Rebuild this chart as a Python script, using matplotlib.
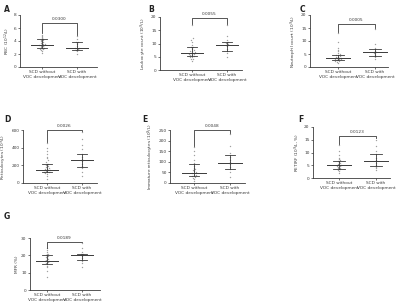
import numpy as np
import matplotlib
matplotlib.use('Agg')
import matplotlib.pyplot as plt

W, H = 400, 303

groups = ['SCD without\nVOC development', 'SCD with\nVOC development']

# panel letters, y labels, ticks, p values
letters = ['A', 'B', 'C', 'D', 'E', 'F', 'G']
ylabels = ['RBC (10$^{12}$/L)', 'Leukocyte count (10$^9$/L)', 'Neutrophil count (10$^9$/L)',
           'Reticulocytes (10$^9$/L)', 'Immature reticulocytes (10$^9$/L)',
           'RETIRF (10$^9$/L, %)', 'MFR (%)']
yticks = [[0, 2, 4, 6, 8], [0, 5, 10, 15, 20], [0, 5, 10, 15, 20], [0, 200, 400, 600],
          [0, 50, 100, 150, 200, 250], [0, 5, 10, 15, 20], [0, 10, 20, 30]]
pvals = ['0.0300', '0.0055', '0.0005', '0.0026', '0.0048', '0.0123', '0.0189']

# raw points, group without VOC / with VOC
g1 = [
    [2.2, 2.4, 2.6, 2.7, 2.8, 2.9, 2.9, 3.0, 3.1, 3.2, 3.3, 3.3, 3.4, 3.4, 3.5, 3.5, 3.6,
     3.7, 3.8, 3.9, 4.0, 4.1, 4.2, 4.3, 4.4, 4.6, 4.8, 5.0],
    [3.5, 4.0, 4.3, 4.8, 5.0, 5.2, 5.5, 5.8, 6.0, 6.2, 6.5, 6.5, 6.8, 7.0, 7.3, 7.6, 8.0,
     8.5, 8.8, 9.5, 10.5, 11.5, 12.0, 17.0],
    [1.5, 2.0, 2.3, 2.5, 2.7, 2.9, 3.0, 3.2, 3.4, 3.5, 3.6, 3.8, 4.0, 4.2, 4.5, 4.8, 5.0,
     5.5, 6.0, 6.5, 7.5, 9.5, 13.0],
    [50, 80, 100, 110, 120, 125, 130, 140, 145, 150, 155, 160, 170, 180, 190, 200, 210,
     220, 240, 260, 280, 300, 330, 360, 400, 450],
    [10, 20, 25, 30, 35, 38, 40, 45, 48, 50, 55, 60, 65, 70, 80, 88, 95, 110, 130, 150, 170],
    [2.0, 2.8, 3.2, 3.5, 3.8, 4.0, 4.3, 4.6, 4.8, 5.0, 5.2, 5.5, 5.8, 6.2, 6.6, 7.0, 7.5,
     8.0, 9.0, 10.5, 13.0],
    [7.5, 11.0, 13.0, 14.0, 15.0, 15.5, 16.0, 16.5, 17.0, 17.0, 17.5, 18.0, 18.5, 19.0,
     19.5, 20.0, 20.5, 21.0, 22.0, 23.0, 24.0],
]
g2 = [
    [2.0, 2.4, 2.6, 2.7, 2.9, 3.0, 3.0, 3.2, 3.5, 3.8, 3.9, 4.3, 4.8],
    [5.0, 6.5, 7.2, 8.0, 9.0, 9.5, 9.8, 10.2, 10.5, 11.5, 13.0, 17.0],
    [3.0, 3.8, 4.2, 4.8, 5.5, 5.8, 6.2, 6.8, 7.5, 9.0, 14.5],
    [80, 130, 170, 190, 220, 250, 270, 300, 330, 380, 430, 500, 580],
    [30, 50, 65, 75, 90, 100, 110, 125, 140, 175, 230],
    [3.0, 4.0, 4.5, 5.0, 5.8, 6.5, 7.0, 8.0, 9.3, 10.5, 12.5, 15.0],
    [13.0, 15.5, 17.0, 17.5, 18.5, 19.5, 20.0, 20.5, 21.0, 22.0, 24.0, 27.0],
]
# median, q1, q3
stats1 = [(3.4, 2.9, 4.3), (6.5, 5.2, 8.7), (3.5, 2.6, 4.7), (150, 120, 210),
          (48, 35, 88), (5.0, 3.7, 6.5), (17.0, 15.0, 20.0)]
stats2 = [(3.0, 2.6, 3.8), (9.5, 7.2, 10.5), (5.7, 4.2, 6.8), (260, 180, 330),
          (95, 68, 130), (6.7, 4.6, 9.3), (20.0, 17.5, 21.0)]
# bracket level and leg ends (data units)
brackets = [(6.8, 5.3, 5.0), (19.5, 17.5, 17.5), (16.5, 13.5, 15.0), (600, 460, 590),
            (250, 175, 235), (16.5, 13.5, 15.5), (27.5, 24.5, 27.5)]

# axes boxes in pixels: left, right, top, bottom, group 1 x, group 2 x
boxes = [(20, 97, 15, 67, 42, 77), (160, 242, 17, 70, 192, 227),
         (310, 388, 15, 67, 338, 375), (23, 97, 130, 183, 47, 82),
         (170, 245, 130, 183, 194, 230), (313, 390, 127, 178, 339, 376),
         (30, 100, 238, 290, 47, 82)]
letter_pos = [(4, 5), (148, 5), (300, 5), (4, 115), (142, 115), (298, 115), (4, 212)]

fig = plt.figure(figsize=(W / 100, H / 100), dpi=100)
fig.patch.set_facecolor('white')

ptc = '#a0a0a0'
lc = '#3a3a3a'
fs = 3.1


def swarm_x(vals, center, step, width):
    vals = np.asarray(vals, dtype=float)
    order = np.argsort(vals)
    xs = np.zeros(len(vals))
    rng = vals.max() - vals.min()
    bins = np.round((vals - vals.min()) / (rng / 18 + 1e-9)).astype(int)
    for b in np.unique(bins):
        idx = [i for i in order if bins[i] == b]
        n = len(idx)
        offs = (np.arange(n) - (n - 1) / 2) * step
        for i, o in zip(idx, offs):
            xs[i] = center + np.clip(o, -width, width)
    return xs


for k in range(7):
    l, r, t, b, p1, p2 = boxes[k]
    ax = fig.add_axes([l / W, 1 - b / H, (r - l) / W, (b - t) / H])
    top = yticks[k][-1]
    ax.set_ylim(0, top)
    unit = p2 - p1
    ax.set_xlim(1 - (p1 - l) / unit, 2 + (r - p2) / unit)

    for pos, vals, st in ((1, g1[k], stats1[k]), (2, g2[k], stats2[k])):
        xs = swarm_x(vals, pos, 0.06, 0.25)
        ax.scatter(xs, vals, s=1.0, color=ptc, linewidths=0, zorder=2, clip_on=False)
        med, q1, q3 = st
        ax.plot([pos - 0.32, pos + 0.32], [med, med], color=lc, lw=0.7, zorder=3)
        ax.plot([pos - 0.15, pos + 0.15], [q1, q1], color=lc, lw=0.6, zorder=3)
        ax.plot([pos - 0.15, pos + 0.15], [q3, q3], color=lc, lw=0.6, zorder=3)
        ax.plot([pos, pos], [q1, q3], color=lc, lw=0.6, zorder=3)

    by, lo1, lo2 = brackets[k]
    ax.plot([1, 1, 2, 2], [lo1, by, by, lo2], color=lc, lw=0.6, clip_on=False)
    ax.text(1.5, by + top * 0.04, pvals[k], ha='center', va='bottom', fontsize=fs,
            color=lc)

    ax.set_xticks([1, 2])
    ax.set_xticklabels(groups, fontsize=fs, color=lc, linespacing=1.3)
    ax.set_yticks(yticks[k])
    ax.set_yticklabels([str(v) for v in yticks[k]], fontsize=fs, color=lc)
    ax.set_ylabel(ylabels[k], fontsize=fs, color=lc, labelpad=1.5)
    ax.tick_params(length=1.5, width=0.5, pad=1, colors=lc)
    for s in ('top', 'right'):
        ax.spines[s].set_visible(False)
    for s in ('left', 'bottom'):
        ax.spines[s].set_linewidth(0.6)
        ax.spines[s].set_color(lc)

    lx, ly = letter_pos[k]
    fig.text(lx / W, 1 - ly / H, letters[k], fontsize=5.5, fontweight='bold',
             color='#222222', va='top', ha='left')

fig.savefig('out.png', dpi=100, facecolor='white')
